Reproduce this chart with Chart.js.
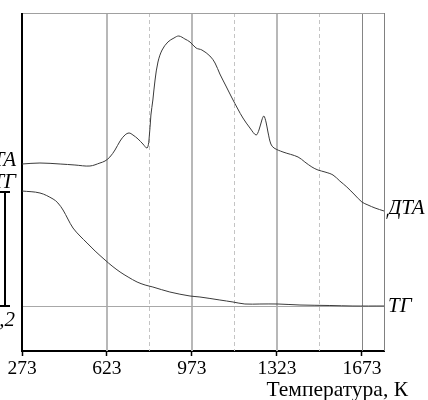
<!DOCTYPE html>
<html>
<head>
<meta charset="utf-8">
<script src="https://cdn.jsdelivr.net/npm/chart.js@4"></script>
<style>
html,body{margin:0;padding:0;background:#fff;}
canvas{display:block;}
</style>
</head>
<body>
<canvas id="c" width="428" height="400"></canvas>
<script>
// Temperatures (K) and signals (arbitrary units)
const tempDTA = [273,347,430,491,553,594,615,635,656,677,697,714,730,751,771,788,796,804,812,821,833,850,874,899,919,944,965,990,1014,1047,1068,1088,1113,1138,1162,1183,1212,1237,1249,1261,1269,1278,1286,1298,1311,1348,1410,1438,1467,1492,1521,1554,1582,1611,1644,1673,1698,1727,1764];
const valDTA  = [187,188,187,186,185,188,190,194,201,210,216,218,216,212,207,203,211,236,251,271,289,301,309,313,315,312,309,303,301,295,288,277,265,253,242,233,223,216,221,231,235,229,219,207,203,199,194,189,184,181,179,176,170,164,156,149,146,143,140];
const tempTG = [273,347,401,421,442,462,483,512,541,574,615,644,677,710,747,780,812,882,965,1006,1088,1142,1191,1253,1327,1418,1541,1636,1764];
const valTG  = [160,158,152,148,141,132,123,115,108,100,91,85,79,74,69,66,64,59,55,54,51,49,47,47,47,46,45.5,45,45];
const tickLabels = [273,623,973,1323,1673];
const midLines = [798,1148,1498];
const tgBase = 45;
const scaleBar = [45,159];
const axisTitle = 'Температура, К';

const pts = (xs, ys) => xs.map((x,i)=>({x:x, y:ys[i]}));

const deco = {
  id:'deco',
  beforeDatasetsDraw(chart){
    const {ctx, chartArea:a, scales:{x,y}} = chart;
    ctx.save();
    ctx.strokeStyle='#c4c4c4'; ctx.lineWidth=1; ctx.setLineDash([4,3]);
    midLines.forEach(v=>{const px=Math.round(x.getPixelForValue(v))+0.5;ctx.beginPath();ctx.moveTo(px,a.top);ctx.lineTo(px,a.bottom);ctx.stroke();});
    ctx.setLineDash([]);
    tickLabels.slice(1).forEach((v,i,arr)=>{
      const px=Math.round(x.getPixelForValue(v));
      if(i===arr.length-1){ctx.strokeStyle='#858585';ctx.lineWidth=1;ctx.beginPath();ctx.moveTo(px+0.5,a.top);ctx.lineTo(px+0.5,a.bottom);ctx.stroke();}
      else{ctx.strokeStyle='#b8b8b8';ctx.lineWidth=2;ctx.beginPath();ctx.moveTo(px,a.top);ctx.lineTo(px,a.bottom);ctx.stroke();}
    });
    ctx.strokeStyle='#a0a0a0'; ctx.lineWidth=1;
    ctx.beginPath();ctx.moveTo(a.left,a.top+0.5);ctx.lineTo(a.right,a.top+0.5);ctx.stroke();
    ctx.strokeStyle='#808080';
    ctx.beginPath();ctx.moveTo(a.right+0.5,a.top);ctx.lineTo(a.right+0.5,a.bottom);ctx.stroke();
    const by=Math.round(y.getPixelForValue(tgBase))+0.5;
    ctx.strokeStyle='#a8a8a8';
    ctx.beginPath();ctx.moveTo(a.left,by);ctx.lineTo(a.right,by);ctx.stroke();
    ctx.strokeStyle='#000'; ctx.lineWidth=2;
    ctx.beginPath();ctx.moveTo(a.left,a.top);ctx.lineTo(a.left,a.bottom+1);ctx.stroke();
    ctx.restore();
  },
  afterDraw(chart){
    const {ctx, chartArea:a, scales:{x,y}} = chart;
    ctx.save();
    const y1=Math.round(y.getPixelForValue(scaleBar[1])), y0=Math.round(y.getPixelForValue(scaleBar[0]));
    ctx.strokeStyle='#000'; ctx.lineWidth=2;
    ctx.beginPath();ctx.moveTo(5,y1);ctx.lineTo(5,y0);ctx.stroke();
    ctx.beginPath();ctx.moveTo(0,y1);ctx.lineTo(10,y1);ctx.moveTo(0,y0);ctx.lineTo(10,y0);ctx.stroke();
    ctx.fillStyle='#000';
    ctx.font='italic 21px "Liberation Serif"';
    ctx.textBaseline='middle';
    ctx.textAlign='right';
    ctx.fillText('ДТА',16,y.getPixelForValue(valDTA[0])-4);
    ctx.fillText('ТГ',16,y.getPixelForValue(valTG[0])-9);
    ctx.fillText('0,2',15,y0+14);
    ctx.textAlign='left';
    ctx.fillText('ДТА',a.right+4,y.getPixelForValue(valDTA[valDTA.length-1])-3);
    ctx.fillText('ТГ',a.right+4,y.getPixelForValue(valTG[valTG.length-1]));
    ctx.font='21.5px "Liberation Serif"';
    ctx.textAlign='right';
    ctx.fillText(axisTitle,408,390);
    ctx.restore();
  }
};

new Chart(document.getElementById('c'),{
  type:'line',
  data:{datasets:[
    {label:'ДТА',data:pts(tempDTA,valDTA),borderColor:'#3a3a3a',borderWidth:1,pointRadius:0,tension:0.35,fill:false},
    {label:'ТГ',data:pts(tempTG,valTG),borderColor:'#3a3a3a',borderWidth:1,pointRadius:0,tension:0.35,fill:false}
  ]},
  options:{
    responsive:false, animation:false, events:[],
    layout:{padding:{left:22,right:44,top:13,bottom:0}},
    plugins:{legend:{display:false},tooltip:{enabled:false}},
    scales:{
      x:{type:'linear',min:273,max:1764,
        afterBuildTicks(s){s.ticks=tickLabels.map(v=>({value:v}));},
        afterFit(s){s.height=49;s.paddingLeft=0;s.paddingRight=0;},
        ticks:{color:'#000',font:{family:'Liberation Serif',size:19.5},padding:1,maxRotation:0,autoSkip:false,callback:v=>String(v)},
        grid:{drawOnChartArea:false,drawTicks:true,tickLength:5,tickColor:'#000',tickWidth:1.5},
        border:{display:true,color:'#000',width:2}
      },
      y:{type:'linear',min:0,max:338,display:false}
    }
  },
  plugins:[deco]
});
</script>
</body>
</html>
